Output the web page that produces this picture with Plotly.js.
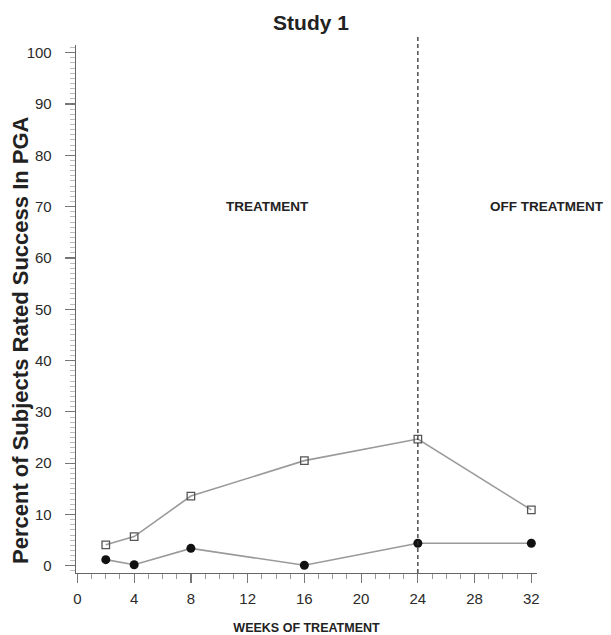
<!DOCTYPE html>
<html>
<head>
<meta charset="utf-8">
<script src="https://cdn.plot.ly/plotly-3.0.1.min.js"></script>
<style>html,body{margin:0;padding:0;background:#fff;}#chart{width:611px;height:635px;}</style>
</head>
<body>
<div id="chart"></div>
<script>
// Data
var weeks = [2, 4, 8, 16, 24, 32];
var openSeries = [4.1, 5.7, 13.6, 20.5, 24.7, 10.9];
var filledSeries = [1.2, 0.2, 3.4, 0.1, 4.4, 4.4];
var xTicks = [0, 4, 8, 12, 16, 20, 24, 28, 32];
var yTicks = [0, 10, 20, 30, 40, 50, 60, 70, 80, 90, 100];
var treatmentEnd = 24;

var FONT = 'Liberation Sans, Arial, Helvetica, sans-serif';

var traces = [
  {
    x: weeks, y: openSeries, mode: 'lines+markers', type: 'scatter',
    line: {color: '#9a9a9a', width: 1.6},
    marker: {symbol: 'square-open', size: 7.5, color: '#555', line: {width: 1.3, color: '#555'}},
    cliponaxis: false, showlegend: false, hoverinfo: 'x+y'
  },
  {
    x: weeks, y: filledSeries, mode: 'lines+markers', type: 'scatter',
    line: {color: '#9a9a9a', width: 1.6},
    marker: {symbol: 'circle', size: 9, color: '#111'},
    cliponaxis: false, showlegend: false, hoverinfo: 'x+y'
  }
];

var layout = {
  width: 611, height: 635,
  margin: {l: 76, r: 74, t: 45, b: 62},
  paper_bgcolor: '#fff', plot_bgcolor: '#fff',
  font: {family: FONT, color: '#222'},
  title: {
    text: '<b>Study 1</b>', font: {family: FONT, size: 21, color: '#222'},
    x: 311 / 611, xanchor: 'center', xref: 'container',
    y: 1 - 23 / 635, yanchor: 'middle', yref: 'container'
  },
  xaxis: {
    range: [-0.1, 32.4], tickvals: xTicks, ticktext: xTicks.map(String),
    showgrid: false, zeroline: false, showline: true, linecolor: '#666', linewidth: 1.3,
    ticks: 'outside', ticklen: 9, tickwidth: 1.2, tickcolor: '#777',
    minor: {dtick: 1, tick0: 0, ticks: 'outside', ticklen: 5, tickwidth: 1, tickcolor: '#999', showgrid: false},
    tickfont: {family: FONT, size: 15, color: '#2a2a2a'},
    ticklabelstandoff: 3,
    title: {text: '<b>WEEKS OF TREATMENT</b>', font: {family: FONT, size: 12.5, color: '#222'}, standoff: 17},
    fixedrange: true
  },
  yaxis: {
    range: [-1.4, 101.5], tickvals: yTicks, ticktext: yTicks.map(String),
    showgrid: false, zeroline: false, showline: true, linecolor: '#666', linewidth: 1.3,
    ticks: 'outside', ticklen: 10, tickwidth: 1.2, tickcolor: '#777',
    minor: {dtick: 1, tick0: 0, ticks: 'outside', ticklen: 5, tickwidth: 0.8, tickcolor: '#aaa', showgrid: false},
    tickfont: {family: FONT, size: 15, color: '#2a2a2a'},
    ticklabelstandoff: 10,
    fixedrange: true
  },
  shapes: [
    {type: 'line', xref: 'x', yref: 'paper', x0: treatmentEnd, x1: treatmentEnd, y0: 0, y1: 1.015,
     line: {color: '#333', width: 1.3, dash: '4px,3px'}}
  ],
  annotations: [
    {text: '<b>TREATMENT</b>', xref: 'x', yref: 'y', x: 13.4, y: 70, showarrow: false,
     font: {family: FONT, size: 13.5, color: '#222'}, xanchor: 'center', yanchor: 'middle'},
    {text: '<b>OFF TREATMENT</b>', xref: 'paper', yref: 'y', x: (547 - 76) / 461, y: 70, showarrow: false,
     font: {family: FONT, size: 13.5, color: '#222'}, xanchor: 'center', yanchor: 'middle'},
    {text: '<b>Percent of Subjects Rated Success In PGA</b>', xref: 'paper', yref: 'paper',
     x: (20 - 76) / 461, y: (573 - 340) / 528, textangle: -90, showarrow: false,
     font: {family: FONT, size: 22, color: '#222'}, xanchor: 'center', yanchor: 'middle'}
  ]
};

Plotly.newPlot('chart', traces, layout, {displayModeBar: false, staticPlot: true});
</script>
</body>
</html>
